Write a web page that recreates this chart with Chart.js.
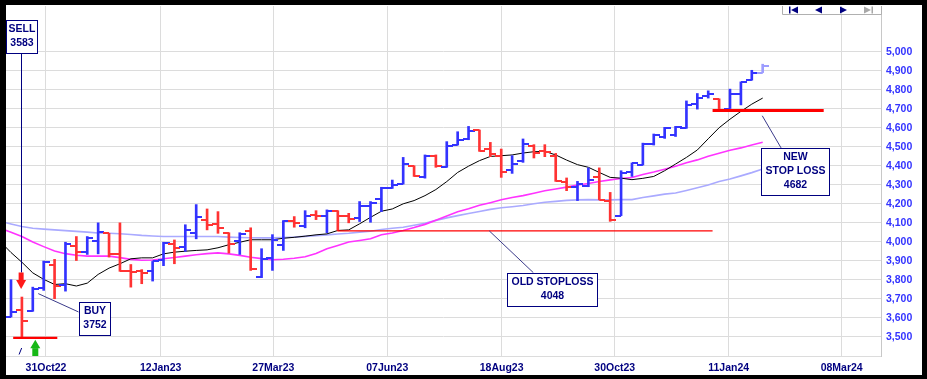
<!DOCTYPE html>
<html>
<head>
<meta charset="utf-8">
<title>Weekly bars with stop loss</title>
<script src="https://cdn.jsdelivr.net/npm/chart.js@4.4.1/dist/chart.umd.min.js"></script>
<style>
  html, body { margin: 0; padding: 0; background: #fff; }
  canvas { display: block; }
</style>
</head>
<body>
<canvas id="chart" width="927" height="379"></canvas>
<script>
// weekly OHLC, one value per week (first bar = week of 07Oct22)
const opens = [3605, 3644, 3635, 3759, 3880, 3771, 3976, 3946, 4002, 4045,
  3937, 3846, 3846, 3846, 3903, 3990, 3972, 4048, 4117, 4095,
  4048, 4002, 4056, 3815, 3916, 3981, 4108, 4085, 4140, 4135,
  4164, 4135, 4124, 4191, 4226, 4281, 4304, 4398, 4343, 4453,
  4396, 4509, 4540, 4588, 4488, 4453, 4378, 4427, 4505, 4479,
  4453, 4313, 4287, 4292, 4343, 4213, 4138, 4365, 4404, 4514,
  4549, 4562, 4597, 4727, 4768, 4750, 4701, 4780, 4850, 4890];
const highs = [3801, 3710, 3762, 3899, 3908, 3998, 4028, 4028, 4100, 4045,
  4100, 3881, 3854, 3897, 3998, 4010, 4090, 4196, 4173, 4159,
  4048, 4048, 4074, 3964, 4038, 4112, 4133, 4164, 4164, 4168,
  4164, 4150, 4212, 4212, 4287, 4325, 4444, 4400, 4457, 4457,
  4527, 4579, 4607, 4588, 4523, 4488, 4453, 4541, 4511, 4511,
  4465, 4336, 4318, 4389, 4389, 4260, 4374, 4415, 4519, 4567,
  4602, 4607, 4741, 4780, 4794, 4752, 4803, 4841, 4902, 4934];
const lows = [3605, 3497, 3635, 3745, 3701, 3741, 3902, 3934, 3937, 3920,
  3845, 3762, 3780, 3794, 3875, 3885, 3950, 4016, 4063, 4045,
  3941, 3934, 3850, 3812, 3850, 3955, 4077, 4074, 4117, 4048,
  4060, 4100, 4107, 4103, 4159, 4281, 4304, 4344, 4335, 4392,
  4392, 4509, 4537, 4476, 4448, 4339, 4360, 4418, 4441, 4448,
  4318, 4269, 4217, 4290, 4221, 4108, 4138, 4344, 4404, 4509,
  4544, 4554, 4597, 4698, 4756, 4690, 4701, 4720, 4850, 4890];
const closes = [3631, 3583, 3752, 3895, 3766, 3990, 3946, 4021, 4054, 3934,
  3846, 3841, 3838, 3897, 3995, 3969, 4065, 4133, 4091, 4074,
  3990, 4042, 3857, 3910, 4012, 4108, 4100, 4138, 4135, 4164,
  4135, 4121, 4191, 4205, 4283, 4299, 4410, 4344, 4453, 4400,
  4506, 4537, 4584, 4479, 4462, 4369, 4410, 4514, 4465, 4470,
  4322, 4287, 4304, 4326, 4221, 4116, 4362, 4415, 4514, 4562,
  4597, 4602, 4719, 4756, 4780, 4694, 4780, 4841, 4890, 4925];

// moving averages, first value is the week before the first bar
const maStart = -1;
const maShort = [4002, 3944, 3893, 3837, 3803, 3776, 3780, 3768, 3783, 3829, 3862,
  3885, 3911, 3916, 3916, 3937, 3946, 3951, 3955, 3958, 3969,
  3985, 3998, 4011, 4011, 4011, 4019, 4024, 4030, 4037, 4042,
  4060, 4063, 4095, 4129, 4161, 4173, 4200, 4217, 4243, 4275,
  4317, 4365, 4398, 4427, 4449, 4453, 4457, 4467, 4474, 4476,
  4457, 4430, 4406, 4392, 4365, 4339, 4335, 4327, 4334, 4344,
  4374, 4409, 4444, 4483, 4542, 4600, 4645, 4686, 4724, 4756];
const maMid = [4072, 4051, 4028, 3999, 3975, 3952, 3938, 3930, 3925, 3925, 3925,
  3917, 3908, 3903, 3905, 3911, 3918, 3925, 3932, 3938, 3942,
  3937, 3929, 3919, 3912, 3906, 3909, 3914, 3922, 3939, 3964,
  3981, 3999, 4007, 4016, 4037, 4047, 4060, 4075, 4092, 4114,
  4136, 4158, 4174, 4192, 4206, 4221, 4233, 4243, 4256, 4269,
  4278, 4288, 4299, 4307, 4317, 4326, 4333, 4338, 4354, 4367,
  4382, 4397, 4416, 4431, 4450, 4466, 4482, 4494, 4509, 4524];
const maLong = [4108, 4094, 4081, 4072, 4067, 4063, 4059, 4055, 4051, 4047, 4045,
  4043, 4039, 4034, 4031, 4028, 4028, 4028, 4028, 4028, 4028,
  4025, 4023, 4022, 4021, 4021, 4023, 4025, 4029, 4033, 4037,
  4041, 4045, 4051, 4056, 4065, 4072, 4077, 4087, 4098, 4113,
  4126, 4138, 4149, 4160, 4171, 4179, 4185, 4191, 4200, 4208,
  4213, 4218, 4221, 4222, 4221, 4221, 4222, 4222, 4233, 4242,
  4251, 4257, 4270, 4284, 4299, 4317, 4330, 4347, 4364, 4383];

// stop levels and the weeks they span
const firstStop = 3495, firstStopWeeks = [0.2, 4.25];
const oldStop = 4058, oldStopWeeks = [29.95, 64.4];
const newStop = 4691, newStopWeeks = [64.4, 74.6];

// x axis in weeks, labels every 50 trading days
const xTickPos = [3.21, 13.74, 24.08, 34.54, 45.04, 55.42, 65.88, 76.25];
const xTickLabels = ['31Oct22', '12Jan23', '27Mar23', '07Jun23', '18Aug23', '30Oct23', '11Jan24', '08Mar24'];
const yTicks = [3400, 3500, 3600, 3700, 3800, 3900, 4000, 4100, 4200, 4300,
  4400, 4500, 4600, 4700, 4800, 4900, 5000];

const BLUE = '#3333ff', RED = '#ff3333', CURRENT = '#9d9dff', NAVY = '#000080';
const GRID = '#dcdcdc';
const FONT = 'bold 10.5px "Liberation Sans", Arial, sans-serif';
const last = closes.length - 1;

const barColor = i => (i === last ? CURRENT : closes[i] >= opens[i] ? BLUE : RED);

function tickImage(color, side) {
  const c = document.createElement('canvas');
  c.width = 12; c.height = 2;
  const g = c.getContext('2d');
  g.fillStyle = color;
  g.fillRect(side === 'left' ? 0 : 6, 0, 6, 2);
  return c;
}
const leftTicks = {}, rightTicks = {};
[BLUE, RED, CURRENT].forEach(c => {
  leftTicks[c] = tickImage(c, 'left');
  rightTicks[c] = tickImage(c, 'right');
});

const weeks = closes.map((_, i) => i);
const maPoints = arr => arr.map((v, i) => ({ x: i + maStart, y: v }));
const levelLine = (level, span) => span.map(w => ({ x: w, y: level }));

// boxes, arrows and connector lines
const annotations = {
  id: 'annotations',
  afterDatasetsDraw(chart) {
    const { ctx, chartArea } = chart;
    const xs = chart.scales.x, ys = chart.scales.y;
    const px = v => xs.getPixelForValue(v);
    const py = v => ys.getPixelForValue(v);

    function seg(x1, y1, x2, y2) {
      ctx.beginPath(); ctx.moveTo(x1, y1); ctx.lineTo(x2, y2); ctx.stroke();
    }
    function box(cx, cy, w, h, lines) {
      const l = Math.round(cx - w / 2) + 0.5, t = Math.round(cy - h / 2) + 0.5;
      ctx.fillStyle = '#fff';
      ctx.fillRect(l, t, w, h);
      ctx.strokeStyle = NAVY; ctx.lineWidth = 1;
      ctx.strokeRect(l, t, w, h);
      ctx.fillStyle = NAVY;
      lines.forEach((s, k) => {
        ctx.fillText(s, l + w / 2, t + h / 2 - 0.8 + (k - (lines.length - 1) / 2) * 14);
      });
    }

    ctx.save();
    ctx.font = FONT;
    ctx.textAlign = 'center';
    ctx.textBaseline = 'middle';
    ctx.strokeStyle = NAVY;
    ctx.lineWidth = 1;

    // SELL
    const sx = px(0.93), sy = py(5082);
    const arrowTop = py(3839);
    seg(Math.round(sx) + 0.5, sy + 16, Math.round(sx) + 0.5, arrowTop);
    box(sx, sy, 31, 33, ['SELL', '3583']);
    ctx.fillStyle = '#ff1a1a';
    ctx.fillRect(sx - 2.5, arrowTop, 5, 7.5);
    ctx.beginPath();
    ctx.moveTo(sx - 5, arrowTop + 7.5); ctx.lineTo(sx + 5, arrowTop + 7.5); ctx.lineTo(sx, arrowTop + 16.5);
    ctx.closePath(); ctx.fill();

    // BUY
    const bx = px(7.62), by = py(3599);
    ctx.strokeStyle = '#3a3a8a';
    seg(px(2.5), py(3728), bx - 15.5, by - 6.2);
    box(bx, by, 31, 33, ['BUY', '3752']);
    const gx = px(2.23), gy = py(3486);
    ctx.fillStyle = '#17b817';
    ctx.beginPath();
    ctx.moveTo(gx, gy); ctx.lineTo(gx + 5, gy + 8.5); ctx.lineTo(gx - 5, gy + 8.5);
    ctx.closePath(); ctx.fill();
    ctx.fillRect(gx - 3, gy + 8.5, 6, chartArea.bottom - gy - 8.5);
    ctx.strokeStyle = NAVY;
    seg(px(0.86) - 1.3, chartArea.bottom - 1.5, px(0.86) + 1.3, chartArea.bottom - 8);

    // OLD STOPLOSS
    const ox = px(49.69), oy = py(3752);
    ctx.strokeStyle = '#3a3a8a';
    seg(px(43.9), py(oldStop), ox - 19, oy - 16.4);
    box(ox, oy, 90, 33, ['OLD STOPLOSS', '4048']);

    // NEW STOP LOSS
    const nx = px(72.0), ny = py(4371);
    ctx.strokeStyle = '#3a3a8a';
    seg(px(68.96), py(4663), nx - 14.3, ny - 23.4);
    box(nx, ny, 68, 47, ['NEW', 'STOP LOSS', '4682']);

    ctx.restore();
  },
  afterDraw(chart) {
    const { ctx, chartArea, width, height } = chart;
    ctx.save();
    // navigation strip, top right
    const r = chartArea.right, t = chartArea.top;
    ctx.strokeStyle = '#b0b0b0'; ctx.lineWidth = 1;
    ctx.beginPath();
    ctx.moveTo(r - 99 + 0.5, t); ctx.lineTo(r - 99 + 0.5, t + 8.5);
    ctx.lineTo(r + 0.5, t + 8.5); ctx.lineTo(r + 0.5, t);
    ctx.stroke();
    const tri = (x, dir, color) => {
      ctx.fillStyle = color;
      ctx.beginPath();
      ctx.moveTo(x + (dir < 0 ? 0 : 7), t + 4);
      ctx.lineTo(x + (dir < 0 ? 7 : 0), t + 0.5);
      ctx.lineTo(x + (dir < 0 ? 7 : 0), t + 7.5);
      ctx.closePath(); ctx.fill();
    };
    ctx.fillStyle = NAVY; ctx.fillRect(r - 92, t + 0.5, 1.5, 7);
    tri(r - 90, -1, NAVY);
    tri(r - 66, -1, NAVY);
    tri(r - 41, 1, NAVY);
    tri(r - 17, 1, '#a8a8a8');
    ctx.fillStyle = '#a8a8a8'; ctx.fillRect(r - 9.5, t + 0.5, 1.5, 7);

    // black frame
    ctx.fillStyle = '#000';
    ctx.fillRect(0, 0, width, 5);
    ctx.fillRect(0, 0, 6, height);
    ctx.fillRect(width - 5, 0, 5, height);
    ctx.fillRect(0, height - 4, width, 4);
    ctx.restore();
  }
};

new Chart(document.getElementById('chart'), {
  type: 'line',
  data: {
    datasets: [
      {
        label: 'stop', data: levelLine(newStop, newStopWeeks),
        borderColor: '#ff0000', borderWidth: 3, pointRadius: 0, order: 0
      },
      {
        label: 'old stop', data: levelLine(oldStop, oldStopWeeks),
        borderColor: '#ff0000', borderWidth: 1.2, pointRadius: 0, order: 0
      },
      {
        label: 'first stop', data: levelLine(firstStop, firstStopWeeks),
        borderColor: '#ff0000', borderWidth: 2.2, pointRadius: 0, order: 0
      },
      {
        label: 'open', data: weeks.map(i => ({ x: i, y: opens[i] })),
        showLine: false, pointRadius: 5, order: 1,
        pointStyle: c => leftTicks[barColor(c.dataIndex)]
      },
      {
        label: 'close', data: weeks.map(i => ({ x: i, y: closes[i] })),
        showLine: false, pointRadius: 5, order: 1,
        pointStyle: c => rightTicks[barColor(c.dataIndex)]
      },
      {
        type: 'bar', label: 'range',
        data: weeks.map(i => ({ x: i, y: [lows[i], highs[i]] })),
        backgroundColor: weeks.map(barColor),
        barThickness: 2, borderWidth: 0, order: 2
      },
      {
        label: 'ma short', data: maPoints(maShort),
        borderColor: '#000000', borderWidth: 1, pointRadius: 0, order: 3
      },
      {
        label: 'ma mid', data: maPoints(maMid),
        borderColor: '#ff33ff', borderWidth: 1.6, pointRadius: 0, order: 4
      },
      {
        label: 'ma long', data: maPoints(maLong),
        borderColor: '#aaaaff', borderWidth: 1.6, pointRadius: 0, order: 5
      }
    ]
  },
  options: {
    responsive: false,
    animation: false,
    events: [],
    layout: { padding: { left: 6, top: 5, right: 5, bottom: 4 } },
    plugins: { legend: { display: false }, tooltip: { enabled: false } },
    scales: {
      x: {
        type: 'linear',
        min: -0.459,
        max: 79.86,
        offset: false,
        grid: { color: GRID, drawTicks: false, offset: false },
        border: { color: GRID },
        ticks: {
          autoSkip: false, maxRotation: 0, padding: 6,
          color: NAVY, font: { family: '"Liberation Sans", Arial', size: 10.5, weight: 'bold' },
          callback: (v, i) => xTickLabels[i]
        },
        afterBuildTicks: s => { s.ticks = xTickPos.map(v => ({ value: v })); },
        afterFit: s => {
          s.height = 19;
          s.paddingLeft = 0; s.paddingRight = 0; s.paddingTop = 0; s.paddingBottom = 0;
        }
      },
      y: {
        type: 'linear',
        position: 'right',
        min: 3400,
        max: 5240,
        grid: { color: GRID, drawTicks: false },
        border: { color: '#c8c8c8' },
        ticks: {
          padding: 5, color: BLUE,
          font: { family: '"Liberation Sans", Arial', size: 10.5, weight: 'bold' },
          callback: v => (v === 3400 ? '' : v.toLocaleString('en-US'))
        },
        afterBuildTicks: s => { s.ticks = yTicks.map(v => ({ value: v })); },
        afterFit: s => {
          s.width = 41;
          s.paddingLeft = 0; s.paddingRight = 0; s.paddingTop = 0; s.paddingBottom = 0;
        }
      }
    }
  },
  plugins: [annotations]
});
</script>
</body>
</html>
